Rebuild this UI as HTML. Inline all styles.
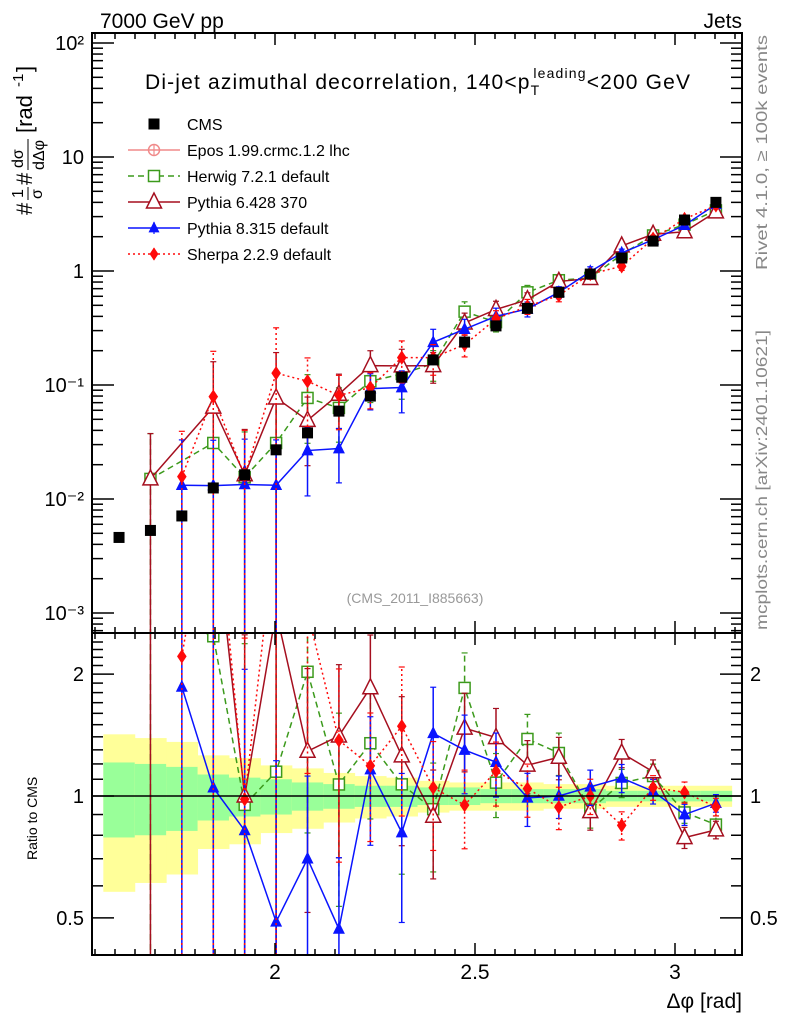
<!DOCTYPE html>
<html><head><meta charset="utf-8">
<style>
html,body{margin:0;padding:0;background:#fff;overflow:hidden;}
svg{display:block;font-family:"Liberation Sans",sans-serif;}
</style></head>
<body>
<svg id="chart" width="786" height="1024" viewBox="0 0 786 1024" xmlns="http://www.w3.org/2000/svg">
<defs>
<clipPath id="clipMain"><rect x="92" y="33" width="650" height="600"/></clipPath>
<clipPath id="clipRatio"><rect x="92" y="633" width="650" height="322"/></clipPath>
</defs>
<g id="bands" clip-path="url(#clipRatio)"></g>
<g id="marks"></g>
<g id="axes"></g>
<text x="100" y="28" font-size="21">7000 GeV pp</text>
<text x="742" y="28" font-size="21" text-anchor="end">Jets</text>
<text x="145" y="89" font-size="21" textLength="545">Di-jet azimuthal decorrelation, 140&lt;p<tspan dy="6" font-size="14">T</tspan><tspan dy="-17" dx="-7" font-size="14">leading</tspan><tspan dy="11">&lt;200 GeV</tspan></text>
<text x="415" y="603" font-size="14" fill="#999" text-anchor="middle">(CMS_2011_I885663)</text>
<text transform="translate(767,270) rotate(-90)" font-size="16" fill="#888" textLength="235" lengthAdjust="spacingAndGlyphs">Rivet 4.1.0, ≥ 100k events</text>
<text transform="translate(767,630) rotate(-90)" font-size="16" fill="#888" textLength="300" lengthAdjust="spacingAndGlyphs">mcplots.cern.ch [arXiv:2401.10621]</text>
<g transform="translate(32,215) rotate(-90)" font-size="22">
<text x="0" y="0">#</text><text x="17" y="-9" font-size="16">1</text><line x1="15" y1="-4" x2="28" y2="-4" stroke="#000"/><text x="16" y="10" font-size="16">σ</text>
<text x="30" y="0">#</text><text x="47" y="-9" font-size="16">dσ</text><line x1="45" y1="-4" x2="76" y2="-4" stroke="#000"/><text x="45" y="12" font-size="16">dΔφ</text>
<text x="82" y="0">[rad</text><text x="128" y="-9" font-size="15">-1</text><text x="143" y="0">]</text>
</g>
<text transform="translate(37,860) rotate(-90)" font-size="14">Ratio to CMS</text>
<text x="742" y="1008" font-size="21" text-anchor="end">Δφ [rad]</text>
<g id="legend"></g>
</svg>
<script>
const binCenters=[1.6101,1.6886,1.7671,1.8457,1.9242,2.0028,2.0813,2.1598,2.2384,2.3169,2.3955,2.4740,2.5525,2.6311,2.7096,2.7882,2.8667,2.9452,3.0238,3.1023];
const cmsVals=[0.0046,0.0053,0.0071,0.0125,0.0163,0.027,0.038,0.059,0.080,0.117,0.166,0.238,0.33,0.47,0.65,0.94,1.30,1.83,2.8,4.0];
const herwigVals=[null,0.015,null,0.031,0.0155,0.031,0.077,0.063,0.108,0.125,0.154,0.44,0.356,0.65,0.83,0.87,1.40,2.05,2.55,3.4];
const pythia6Vals=[null,0.015,null,0.064,0.0163,0.077,0.049,0.083,0.148,0.147,0.148,0.35,0.46,0.56,0.81,0.86,1.66,2.1,2.21,3.3];
const pythia8Vals=[null,null,0.0132,0.0131,0.0134,0.0132,0.0266,0.0277,0.093,0.095,0.237,0.309,0.40,0.465,0.65,0.99,1.44,1.88,2.52,3.84];
const sherpaVals=[null,null,0.0157,0.079,0.016,0.127,0.108,0.081,0.095,0.174,0.174,0.226,0.38,0.49,0.61,0.94,1.1,1.92,2.86,3.76];
const mcRelErr=[1.5,1.5,1.5,1.5,1.5,1.5,0.6,0.5,0.35,0.4,0.3,0.22,0.18,0.15,0.12,0.1,0.08,0.07,0.06,0.05];
const totErr=[0.42,0.39,0.36,0.26,0.24,0.19,0.17,0.14,0.12,0.11,0.09,0.08,0.08,0.08,0.07,0.07,0.06,0.06,0.06,0.06];
const statErr=[0.21,0.20,0.18,0.13,0.11,0.10,0.08,0.07,0.06,0.06,0.05,0.05,0.04,0.04,0.04,0.04,0.03,0.03,0.03,0.03];
const xTicksMajor=[2,2.5,3];
const yTickLabels=["10\u207B\u00B3","10\u207B\u00B2","10\u207B\u00B9","1","10","10\u00B2"];
const ratioTickVals=[0.5,1,2];

const NS="http://www.w3.org/2000/svg";
const X0=92,X1=742,MT=33,MB=633,RB=955;
const xs=v=>275+400*(v-2);
const ys=v=>271-114*Math.log10(v);
const yr=r=>796-405*Math.log10(r);
const binW=Math.PI/40;
function mk(tag,attrs,parent){const e=document.createElementNS(NS,tag);for(const k in attrs)e.setAttribute(k,attrs[k]);parent.appendChild(e);return e;}
const bands=document.getElementById('bands');
const marks=document.getElementById('marks');
const axes=document.getElementById('axes');
const legend=document.getElementById('legend');

binCenters.forEach((c,i)=>{
  const xa=xs(c-binW/2),xb=xs(c+binW/2);
  const r1=mk('rect',{x:xa,y:yr(1+totErr[i]),width:xb-xa+0.5,height:yr(1-totErr[i])-yr(1+totErr[i]),fill:'#ffff99'},bands);
  
  
  const r2=mk('rect',{x:xa,y:yr(1+statErr[i]),width:xb-xa+0.5,height:yr(1-statErr[i])-yr(1+statErr[i]),fill:'#99ff99'},bands);
  
  
});
const ref=mk('line',{x1:X0,x2:X1,y1:yr(1),y2:yr(1),stroke:'#000','stroke-width':1.5},axes);



function marker(g,type,x,y,color,s){
  let e;
  if(type==='sq') e=mk('rect',{x:x-s/2,y:y-s/2,width:s,height:s,fill:color},g);
  else if(type==='osq') e=mk('rect',{x:x-s/2,y:y-s/2,width:s,height:s,fill:'#fff',stroke:color,'stroke-width':1.5},g);
  else if(type==='otri') e=mk('polygon',{points:`${x},${y-s*0.6} ${x-s/2},${y+s*0.4} ${x+s/2},${y+s*0.4}`,fill:'#fff',stroke:color,'stroke-width':1.5},g);
  else if(type==='tri') e=mk('polygon',{points:`${x},${y-s*0.6} ${x-s/2},${y+s*0.4} ${x+s/2},${y+s*0.4}`,fill:color},g);
  else if(type==='dia') e=mk('polygon',{points:`${x},${y-s*0.6} ${x-s*0.4},${y} ${x},${y+s*0.6} ${x+s*0.4},${y}`,fill:color},g);
  else if(type==='circ'){e=mk('circle',{cx:x,cy:y,r:s/2,fill:'none',stroke:color,'stroke-width':1.5},g);}
  return e;
}
const series=[
 {name:'herwig',vals:herwigVals,color:'#3c9a1c',dash:'6,4',m:'osq',s:11},
 {name:'pythia6',vals:pythia6Vals,color:'#a50f1f',dash:'',m:'otri',s:15},
 {name:'pythia8',vals:pythia8Vals,color:'#0a14ff',dash:'',m:'tri',s:12},
 {name:'sherpa',vals:sherpaVals,color:'#ff0a0a',dash:'2,3',m:'dia',s:12}
];
function drawSeries(sr,panel){
  const g=mk('g',{'clip-path':panel==='main'?'url(#clipMain)':'url(#clipRatio)'},marks);
  
  
  const pts=[];
  sr.vals.forEach((v,i)=>{
    if(v==null)return;
    const val=panel==='main'?v:v/cmsVals[i];
    const f=panel==='main'?ys:(r=>yr(r));
    const x=xs(binCenters[i]),y=f(val);
    pts.push([x,y]);
    const lo=Math.max(val*(1-mcRelErr[i]),1e-6),hi=val*(1+mcRelErr[i]);
    const yl=Math.min(f(lo),2000),yh=f(hi);
    mk('line',{x1:x,x2:x,y1:yl,y2:yh,stroke:sr.color,'stroke-width':1.5,'stroke-dasharray':sr.dash},g);
    mk('line',{x1:x-3,x2:x+3,y1:yh,y2:yh,stroke:sr.color,'stroke-width':1.2},g);
    mk('line',{x1:x-3,x2:x+3,y1:yl,y2:yl,stroke:sr.color,'stroke-width':1.2},g);
  });
  mk('polyline',{points:pts.map(p=>p.join(',')).join(' '),fill:'none',stroke:sr.color,'stroke-width':1.5,'stroke-dasharray':sr.dash},g);
  pts.forEach(p=>{const m=marker(g,sr.m,p[0],p[1],sr.color,sr.s);
    
    });
}
series.forEach(s=>drawSeries(s,'main'));
series.forEach(s=>drawSeries(s,'ratio'));
const cg=mk('g',{'clip-path':'url(#clipMain)'},marks);


cmsVals.forEach((v,i)=>{
  const m=marker(cg,'sq',xs(binCenters[i]),ys(v),'#000',11);
  
  
});

[[MT,MB],[MB,RB]].forEach(([t,b],k)=>{
  const r=mk('rect',{x:X0,y:t,width:X1-X0,height:b-t,fill:'none',stroke:'#000','stroke-width':2},axes);
  
  
});
for(let v=1.55;v<=3.2;v+=0.05){
  const vv=Math.round(v*100)/100;const x=xs(vv);if(x<X0||x>X1)continue;
  const maj=Math.abs(vv*2-Math.round(vv*2))<1e-6;const L=maj?12:6;
  [[MT,1],[MB,-1],[MB,1],[RB,-1]].forEach(([y,d])=>mk('line',{x1:x,x2:x,y1:y,y2:y+d*L,stroke:'#000','stroke-width':1.5},axes));
}
xTicksMajor.forEach(v=>{const t=mk('text',{x:xs(v),y:979,'font-size':21,'text-anchor':'middle'},axes);t.textContent=String(v);
  
  });
for(let e=-4;e<=2;e++){for(let m=1;m<10;m++){const v=m*Math.pow(10,e);const y=ys(v);if(y<MT||y>MB)continue;const L=m===1?22:11;
  mk('line',{x1:X0,x2:X0+L,y1:y,y2:y,stroke:'#000','stroke-width':1.5},axes);
  mk('line',{x1:X1,x2:X1-L,y1:y,y2:y,stroke:'#000','stroke-width':1.5},axes);}}
yTickLabels.forEach((lab,i)=>{const t=mk('text',{x:84,y:ys(Math.pow(10,i-3))+7,'font-size':20,'text-anchor':'end'},axes);t.textContent=lab;
  
  });
for(let r=0.3;r<=2.5;r+=0.1){const rr=Math.round(r*10)/10;const y=yr(rr);if(y<MB||y>RB)continue;const maj=[0.5,1,2].includes(rr);const L=maj?22:11;
  mk('line',{x1:X0,x2:X0+L,y1:y,y2:y,stroke:'#000','stroke-width':1.5},axes);
  mk('line',{x1:X1,x2:X1-L,y1:y,y2:y,stroke:'#000','stroke-width':1.5},axes);}
ratioTickVals.forEach(r=>{
  const t=mk('text',{x:84,y:yr(r)+7,'font-size':20,'text-anchor':'end'},axes);t.textContent=String(r);
  
  
  const t2=mk('text',{x:750,y:yr(r)+7,'font-size':20},axes);t2.textContent=String(r);
  
  
});
const legItems=[
 ['CMS','sq','#000',''],
 ['Epos 1.99.crmc.1.2 lhc','circ','#f08a8a',''],
 ['Herwig 7.2.1 default','osq','#3c9a1c','6,4'],
 ['Pythia 6.428 370','otri','#a50f1f',''],
 ['Pythia 8.315 default','tri','#0a14ff',''],
 ['Sherpa 2.2.9 default','dia','#ff0a0a','2,3']
];
legItems.forEach((it,i)=>{
  const y=124+26*i;
  const g=mk('g',{},legend);
  
  
  if(i>0){mk('line',{x1:128,x2:180,y1:y,y2:y,stroke:it[2],'stroke-width':1.5,'stroke-dasharray':it[3]},g);
    mk('line',{x1:154,x2:154,y1:y-6,y2:y+6,stroke:it[2],'stroke-width':1.2},g);}
  marker(g,it[1],154,y,it[2],i===0?11:(it[1]==='otri'?15:11));
  const t=mk('text',{x:187,y:y+6,'font-size':16},g);t.textContent=it[0];
});
</script>
</body></html>
